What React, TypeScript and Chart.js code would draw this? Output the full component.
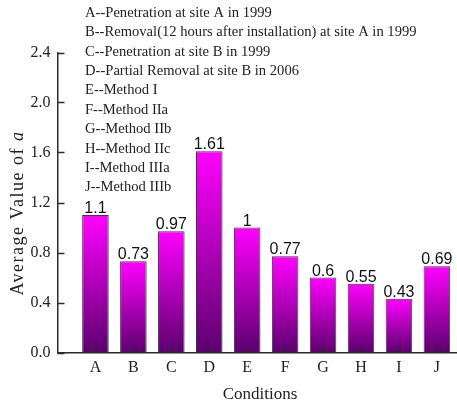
import React, { useEffect, useRef } from 'react';
import { Chart, registerables } from 'chart.js';

Chart.register(...registerables);

const categories = ['A', 'B', 'C', 'D', 'E', 'F', 'G', 'H', 'I', 'J'];
const values = [1.1, 0.73, 0.97, 1.61, 1, 0.77, 0.6, 0.55, 0.43, 0.69];
const valueLabels = ['1.1', '0.73', '0.97', '1.61', '1', '0.77', '0.6', '0.55', '0.43', '0.69'];
const yTicks = [0, 0.4, 0.8, 1.2, 1.6, 2.0, 2.4];
const legendLines = [
  'A--Penetration at site A in 1999',
  'B--Removal(12 hours after installation) at site A in 1999',
  'C--Penetration at site B in 1999',
  'D--Partial Removal at site B in 2006',
  'E--Method I',
  'F--Method IIa',
  'G--Method IIb',
  'H--Method IIc',
  'I--Method IIIa',
  'J--Method IIIb',
];
const xTitle = 'Conditions';
const yTitleMain = 'Average Value of ';
const yTitleVar = 'a';

const SERIF = '"Liberation Serif", "Times New Roman", serif';
const SANS = '"Liberation Sans", Arial, sans-serif';
const AXIS_COLOR = '#2b2b2b';

const overlayPlugin = {
  id: 'overlay',
  afterDatasetsDraw(chart: any) {
    const ctx = chart.ctx;
    const { chartArea, scales } = chart;
    const xs = scales.x;
    const ys = scales.y;
    ctx.save();
    // inward ticks
    ctx.strokeStyle = AXIS_COLOR;
    ctx.lineWidth = 1.5;
    yTicks.forEach((v) => {
      const py = Math.round(ys.getPixelForValue(v)) + 0.5;
      ctx.beginPath();
      ctx.moveTo(chartArea.left, py);
      ctx.lineTo(chartArea.left + 7, py);
      ctx.stroke();
    });
    categories.forEach((_, i) => {
      const px = xs.getPixelForValue(i + 1);
      ctx.beginPath();
      ctx.moveTo(px, chartArea.bottom);
      ctx.lineTo(px, chartArea.bottom - 6);
      ctx.stroke();
    });
    // value labels
    const meta = chart.getDatasetMeta(0);
    ctx.fillStyle = '#111';
    ctx.font = '16px ' + SANS;
    ctx.textAlign = 'center';
    ctx.textBaseline = 'alphabetic';
    meta.data.forEach((bar: any, i: number) => {
      ctx.fillText(valueLabels[i], bar.x, bar.y - 2);
    });
    ctx.restore();
  },
  afterDraw(chart: any) {
    const ctx = chart.ctx;
    ctx.save();
    // legend text block
    ctx.fillStyle = '#222';
    ctx.font = '14.6px ' + SERIF;
    ctx.textAlign = 'left';
    ctx.textBaseline = 'middle';
    legendLines.forEach((t, i) => {
      ctx.fillText(t, 85, 13 + i * 19.4);
    });
    // x title
    ctx.font = '17px ' + SERIF;
    ctx.textAlign = 'center';
    ctx.fillText(xTitle, 260, 395);
    // y title
    ctx.translate(18, 213);
    ctx.rotate(-Math.PI / 2);
    (ctx as any).letterSpacing = '1.5px';
    ctx.font = '18px ' + SERIF;
    const w1 = ctx.measureText(yTitleMain).width;
    ctx.font = 'italic 18px ' + SERIF;
    const w2 = ctx.measureText(yTitleVar).width;
    const start = -(w1 + w2) / 2;
    ctx.textAlign = 'left';
    ctx.font = '18px ' + SERIF;
    ctx.fillText(yTitleMain, start, 0);
    ctx.font = 'italic 18px ' + SERIF;
    ctx.fillText(yTitleVar, start + w1, 0);
    ctx.restore();
  },
};

export default function App() {
  const ref = useRef<HTMLCanvasElement | null>(null);
  useEffect(() => {
    if (!ref.current) return;
    const chart = new Chart(ref.current, {
      type: 'bar',
      data: {
        datasets: [
          {
            data: values.map((v, i) => ({ x: i + 1, y: v })),
            backgroundColor: (c: any) => {
              const ch = c.chart;
              const { chartArea, scales } = ch;
              if (!chartArea || c.type !== 'data' || !scales.y) return '#ff00ff';
              const top = scales.y.getPixelForValue(c.parsed ? c.parsed.y : values[c.dataIndex]);
              const base = scales.y.getPixelForValue(0);
              const g = ch.ctx.createLinearGradient(0, top, 0, base);
              g.addColorStop(0, '#ff00ff');
              g.addColorStop(1, '#5c006e');
              return g;
            },
            borderColor: '#3a3a3a',
            borderWidth: 1,
            barPercentage: 0.7,
            categoryPercentage: 1,
          } as any,
        ],
      },
      options: {
        animation: false,
        responsive: false,
        maintainAspectRatio: false,
        layout: { padding: { top: 52.5, right: 0, left: 0, bottom: 0 } },
        plugins: { legend: { display: false }, tooltip: { enabled: false } },
        scales: {
          x: {
            type: 'linear',
            min: 0,
            max: 10.53,
            offset: false,
            grid: { display: false, drawTicks: false, offset: false },
            border: { display: true, color: AXIS_COLOR, width: 1.5 },
            ticks: {
              autoSkip: false,
              maxRotation: 0,
              padding: 6,
              color: '#222',
              font: { family: SERIF, size: 16 },
              callback: (v: any) => {
                const n = Number(v);
                return Number.isInteger(n) && n >= 1 && n <= categories.length ? categories[n - 1] : '';
              },
            },
            afterBuildTicks: (s: any) => {
              s.ticks = categories.map((_, i) => ({ value: i + 1 }));
            },
            afterFit: (s: any) => {
              s.height = 54.5;
            },
          },
          y: {
            min: 0,
            max: 2.4,
            grid: { display: false, drawTicks: false },
            border: { display: true, color: AXIS_COLOR, width: 1.5 },
            ticks: {
              padding: 7,
              color: '#222',
              font: { family: SERIF, size: 16 },
              callback: (v: any) => Number(v).toFixed(1),
            },
            afterBuildTicks: (s: any) => {
              s.ticks = yTicks.map((v) => ({ value: v }));
            },
            afterFit: (s: any) => {
              s.width = 57.5;
            },
          },
        },
      },
      plugins: [overlayPlugin],
    });
    return () => chart.destroy();
  }, []);
  return (
    <div style={{ position: 'absolute', left: 0, top: 0, width: 457, height: 407, background: '#fff' }}>
      <canvas ref={ref} width={457} height={407} style={{ display: 'block' }} />
    </div>
  );
}
